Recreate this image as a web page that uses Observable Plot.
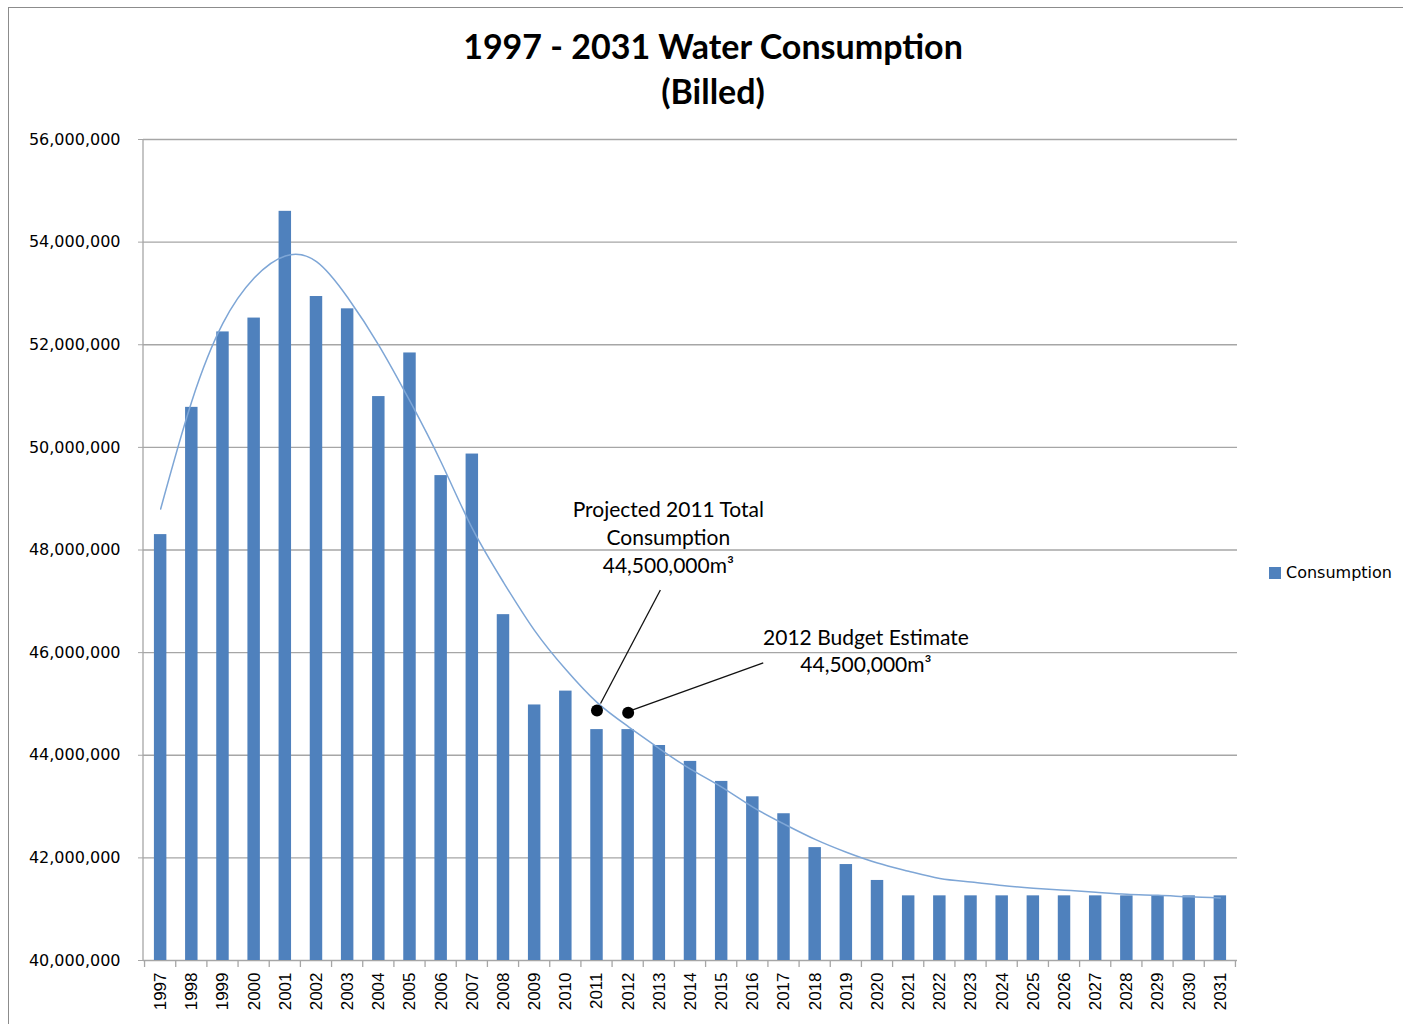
<!DOCTYPE html>
<html><head><meta charset="utf-8">
<script src="https://cdn.jsdelivr.net/npm/d3@7"></script>
<script src="https://cdn.jsdelivr.net/npm/@observablehq/plot@0.6"></script>
<style>
html,body{margin:0;padding:0;background:#fff;}
#wrap{position:relative;width:1403px;height:1024px;overflow:hidden;background:#fff;}
#frame{position:absolute;left:8px;top:7px;width:1400px;height:1030px;border-left:1.5px solid #8c8c8c;border-top:1.5px solid #8c8c8c;}
#title{position:absolute;left:363px;width:700px;top:23px;text-align:center;font:bold 34px Lato, "Open Sans", sans-serif;line-height:45px;color:#000;}
#chart{position:absolute;left:0;top:110px;}
#legend{position:absolute;left:1269px;top:563px;font:16px "DejaVu Sans", sans-serif;display:flex;align-items:center;color:#000;}
#legend .sw{width:12px;height:12px;background:#4f81bd;margin-right:5px;}
</style></head><body>
<div id="wrap">
  <div id="frame"></div>
  <div id="title">1997 - 2031 Water Consumption<br>(Billed)</div>
  <div id="chart"></div>
  <div id="legend"><span class="sw"></span><span>Consumption</span></div>
</div>
<script>
const years = [1997,1998,1999,2000,2001,2002,2003,2004,2005,2006,2007,2008,2009,2010,2011,2012,2013,2014,2015,2016,2017,2018,2019,2020,2021,2022,2023,2024,2025,2026,2027,2028,2029,2030,2031];
const consumption = [48300000,50780000,52250000,52520000,54600000,52940000,52700000,50990000,51840000,49450000,49870000,46740000,44980000,45250000,44500000,44500000,44190000,43880000,43490000,43190000,42860000,42200000,41870000,41560000,41260000,41260000,41260000,41260000,41260000,41260000,41260000,41260000,41260000,41260000,41260000];
const trend = [48800000,50900000,52420000,53300000,53730000,53620000,52920000,51990000,50900000,49710000,48420000,47370000,46430000,45670000,45030000,44560000,44130000,43730000,43380000,42990000,42660000,42360000,42110000,41900000,41740000,41600000,41530000,41460000,41410000,41370000,41330000,41290000,41270000,41240000,41220000];
const yTicks = [40000000,42000000,44000000,46000000,48000000,50000000,52000000,54000000,56000000];
const markerYears = ["2011","2012"];
const markerValues = [44870000,44830000];
const note1 = "Projected 2011 Total\nConsumption\n44,500,000m³";
const note2 = "2012 Budget Estimate\n44,500,000m³";
// leader lines: fractional year positions and values
const leaderX1 = [2011.13, 2012.14];
const leaderY1 = [45000000, 44870000];
const leaderX2 = [2013.05, 2016.35];
const leaderY2 = [47210000, 45790000];

const data = years.map((yr, i) => ({year: String(yr), value: consumption[i], trend: trend[i]}));
const markers = markerYears.map((y, i) => ({year: y, value: markerValues[i]}));

function decorations(index, scales, values, dimensions) {
  const x = scales.x, y = scales.y;
  const bw = x.bandwidth(), step = x.step();
  const cx = yr => x(String(yr)) + bw / 2;
  const fx = f => { const a = Math.floor(f); return cx(a) + (f - a) * step; };
  const g = d3.create("svg:g");
  g.append("line").attr("x1", dimensions.marginLeft).attr("x2", dimensions.marginLeft)
    .attr("y1", y(56000000)).attr("y2", y(40000000)).attr("stroke", "#a6a6a6").attr("stroke-width", 1.3);
  const bounds = years.map(yr => cx(yr) - step / 2).concat([cx(years[years.length - 1]) + step / 2]);
  bounds.forEach(bx => g.append("line").attr("x1", bx).attr("x2", bx)
    .attr("y1", y(40000000)).attr("y2", y(40000000) + 7).attr("stroke", "#a6a6a6").attr("stroke-width", 1.3));
  leaderX1.forEach((v, i) => g.append("line")
    .attr("x1", fx(leaderX1[i])).attr("y1", y(leaderY1[i]))
    .attr("x2", fx(leaderX2[i])).attr("y2", y(leaderY2[i]))
    .attr("stroke", "#111").attr("stroke-width", 1.3));
  return g.node();
}

const chart = Plot.plot({
  width: 1403, height: 914,
  marginLeft: 143, marginRight: 166, marginTop: 29, marginBottom: 64,
  style: {background: "transparent", fontFamily: "DejaVu Sans", fontSize: "16px", color: "#000"},
  x: {domain: years.map(String), paddingInner: 0.6, paddingOuter: 0.35, round: false, label: null},
  y: {domain: [40000000, 56000000], label: null},
  marks: [
    Plot.gridY(yTicks, {stroke: "#a6a6a6", strokeOpacity: 1, strokeWidth: 1.3}),
    Plot.barY(data, {x: "year", y1: d => 40000000, y2: "value", fill: "#4f81bd"}),
    Plot.lineY(data, {x: "year", y: "trend", stroke: "#7ea6d6", strokeWidth: 1.5, curve: "natural"}),
    Plot.axisY(yTicks, {tickFormat: d3.format(","), tickSize: 5, tickPadding: 18, stroke: "#a6a6a6", fontSize: 16, fontFamily: "DejaVu Sans", label: null}),
    Plot.axisX({tickSize: 0, tickRotate: -90, tickPadding: 12, fontSize: 17, fontFamily: "Liberation Sans", label: null}),
    decorations,
    Plot.dot(markers, {x: "year", y: "value", r: 6, fill: "#000"}),
    Plot.text([note1], {x: () => "2013", y: () => 48280000, text: d => d, dx: 9, fontSize: 21, fontFamily: "Lato", lineHeight: 1.333, lineAnchor: "middle", fill: "#000"}),
    Plot.text([note2], {x: () => "2020", y: () => 46060000, text: d => d, dx: -11.6, fontSize: 21, fontFamily: "Lato", lineHeight: 1.333, lineAnchor: "middle", fill: "#000"})
  ]
});
document.getElementById("chart").appendChild(chart);
</script>
</body></html>
